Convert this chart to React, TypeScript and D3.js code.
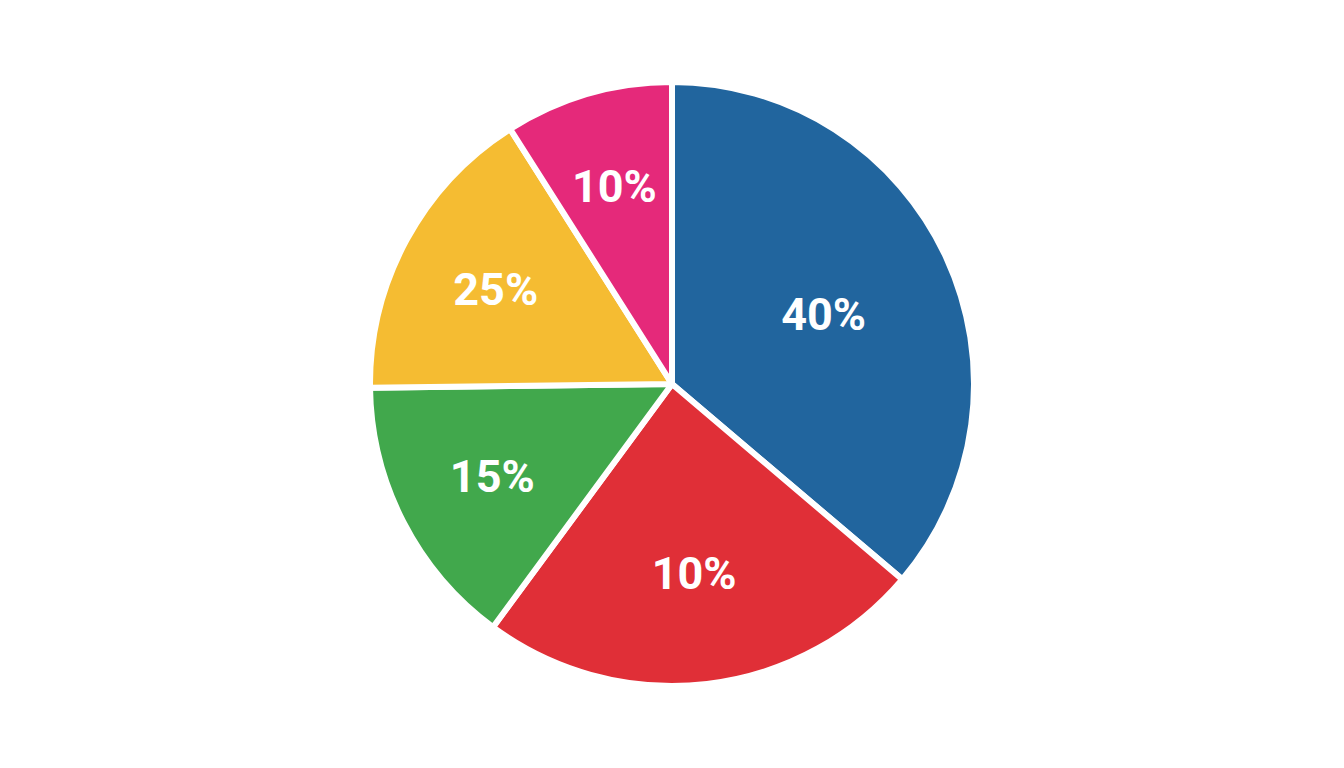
import React from "react";
import * as d3 from "d3";

const categories = ["Blue", "Red", "Green", "Yellow", "Pink"];
const values = [36.2, 23.9, 14.7, 16.2, 9.0];
const labels = ["40%", "10%", "15%", "25%", "10%"];
const colors = ["#21659e", "#e02f37", "#41a84c", "#f5bc32", "#e5297a"];

const W = 1344;
const H = 768;
const CX = 672;
const CY = 384;
const R = 302;
const LABEL_SCALE = 1.04;

export default function App() {
  const pie = d3
    .pie<number>()
    .sort(null)
    .value((d) => d)(values);
  const arc = d3.arc<d3.PieArcDatum<number>>().innerRadius(0).outerRadius(R);

  const labelPos = (p: d3.PieArcDatum<number>) => {
    const half = (p.endAngle - p.startAngle) / 2;
    const mid = (p.endAngle + p.startAngle) / 2;
    const dist = LABEL_SCALE * (2 / 3) * R * (Math.sin(half) / half);
    return [dist * Math.sin(mid), -dist * Math.cos(mid)];
  };

  return (
    <svg
      width={W}
      height={H}
      style={{ position: "absolute", left: 0, top: 0, background: "#ffffff" }}
    >
      <g transform={`translate(${CX},${CY})`}>
        {pie.map((p, i) => (
          <path
            key={categories[i]}
            d={arc(p) || ""}
            fill={colors[i]}
            stroke="#ffffff"
            strokeWidth={6}
            strokeLinejoin="round"
          />
        ))}
        {pie.map((p, i) => {
          const [x, y] = labelPos(p);
          return (
            <text
              key={"t" + i}
              x={x}
              y={y}
              dy="0.355em"
              textAnchor="middle"
              fill="#ffffff"
              fontFamily="Roboto, 'Open Sans', sans-serif"
              fontWeight={700}
              fontSize={45}
            >
              {labels[i]}
            </text>
          );
        })}
      </g>
    </svg>
  );
}
